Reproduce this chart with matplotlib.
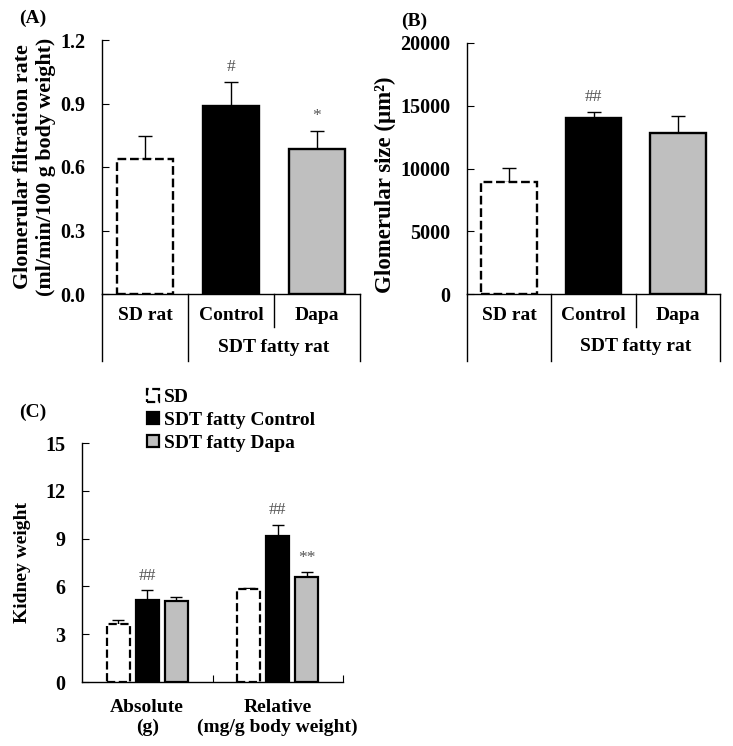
import matplotlib.pyplot as plt
import numpy as np

plt.rcParams['font.family'] = ['Liberation Serif', 'DejaVu Serif']
plt.rcParams['font.weight'] = 'bold'
plt.rcParams['axes.linewidth'] = 1.0

# data
groups_ab = ["SD rat", "Control", "Dapa"]
gfr_mean = [0.638, 0.888, 0.686]
gfr_err = [0.108, 0.115, 0.085]
gfr_marks = ["", "#", "*"]

glom_mean = [8950, 14000, 12800]
glom_err = [1110, 530, 1410]
glom_marks = ["", "##", ""]

kw_groups = ["Absolute\n(g)", "Relative\n(mg/g body weight)"]
kw_series = ["SD", "SDT fatty Control", "SDT fatty Dapa"]
kw_mean = [[3.67, 5.82], [5.13, 9.15], [5.08, 6.59]]
kw_err = [[0.25, 0.08], [0.63, 0.73], [0.26, 0.31]]
kw_marks = [["", ""], ["##", "##"], ["", "**"]]

FILL = ["white", "black", "#bfbfbf"]
STYLE = ["--", "-", "-"]
TICK = 14.5
TXT = 14
MARK_COLOR = "#555555"

fig = plt.figure(figsize=(7.33, 7.46), dpi=100)


def px_axes(left, top, right, bottom):
    W, H = 733, 746
    return fig.add_axes([left / W, 1 - bottom / H, (right - left) / W, (bottom - top) / H])


def style_axes(ax):
    ax.spines['top'].set_visible(False)
    ax.spines['right'].set_visible(False)
    ax.tick_params(axis='y', direction='in', length=5, labelsize=TICK, pad=12)
    for lab in ax.get_yticklabels():
        lab.set_fontweight('bold')


def three_bar_panel(ax, means, errs, marks, ylim, yticks, fmt, ylabel, yl_size, yl_y,
                    letter, lx):
    x = np.arange(3)
    for i in range(3):
        ax.bar(x[i], means[i], width=0.66, color=FILL[i], edgecolor="black",
               linewidth=1.7, linestyle=STYLE[i], zorder=2)
        ax.errorbar(x[i], means[i], yerr=[[0], [errs[i]]], fmt='none',
                    ecolor="black", elinewidth=1.0, capsize=5, capthick=1.0, zorder=1)
        if marks[i]:
            ax.text(x[i], means[i] + errs[i] + ylim[1] * 0.025, marks[i], ha='center',
                    va='bottom', fontsize=12.5, fontweight='normal', color=MARK_COLOR)
    ax.set_xlim(-0.5, 2.5)
    ax.set_ylim(*ylim)
    ax.set_yticks(yticks)
    ax.set_yticklabels([fmt.format(v) for v in yticks])
    ax.set_xticks([])
    style_axes(ax)
    tr = ax.get_xaxis_transform()
    # category dividers below the axis
    for xv, ylow in [(-0.5, -0.265), (0.5, -0.265), (1.5, -0.13), (2.5, -0.265)]:
        ax.plot([xv, xv], [0, ylow], transform=tr, color="black", lw=1.0, clip_on=False)
    for i, g in enumerate(groups_ab):
        ax.text(x[i], -0.085, g, transform=tr, ha='center', va='center',
                fontsize=TXT, fontweight='bold')
    ax.text(1.5, -0.21, "SDT fatty rat", transform=tr, ha='center', va='center',
            fontsize=TXT, fontweight='bold')
    ax.set_ylabel(ylabel, fontsize=yl_size, fontweight='bold', labelpad=3, y=yl_y)
    ax.text(lx, 1.085, letter, transform=ax.transAxes, fontsize=TXT, fontweight='bold',
            va='center')


axA = px_axes(102, 40, 360, 294)
three_bar_panel(axA, gfr_mean, gfr_err, gfr_marks, (0, 1.2), [0, 0.3, 0.6, 0.9, 1.2],
                "{:.1f}", "Glomerular filtration rate\n(ml/min/100 g body weight)",
                15.8, 0.5, "(A)", -0.32)

axB = px_axes(467, 43, 720, 294)
three_bar_panel(axB, glom_mean, glom_err, glom_marks, (0, 20000),
                [0, 5000, 10000, 15000, 20000], "{:d}",
                "Glomerular size (\u03bcm\u00b2)", 16.5, 0.435, "(B)", -0.26)

# panel C
axC = px_axes(82, 443, 343, 682)
off = 0.222
xg = np.arange(2)
for s in range(3):
    pos = xg + (s - 1) * off
    axC.bar(pos, kw_mean[s], width=0.176, color=FILL[s], edgecolor="black",
            linewidth=1.6, linestyle=STYLE[s], zorder=2, label=kw_series[s])
    axC.errorbar(pos, kw_mean[s], yerr=[[0, 0], kw_err[s]], fmt='none', ecolor="black",
                 elinewidth=1.0, capsize=4, capthick=1.0, zorder=1)
    for j in range(2):
        if kw_marks[s][j]:
            axC.text(pos[j], kw_mean[s][j] + kw_err[s][j] + 0.4, kw_marks[s][j],
                     ha='center', va='bottom', fontsize=12.5, fontweight='normal',
                     color=MARK_COLOR)
axC.set_xlim(-0.5, 1.5)
axC.set_ylim(0, 15)
axC.set_yticks([0, 3, 6, 9, 12, 15])
axC.set_yticklabels(["0", "3", "6", "9", "12", "15"])
axC.set_xticks([0.5, 1.5])
axC.set_xticklabels([])
axC.tick_params(axis='x', direction='in', length=5)
style_axes(axC)
trC = axC.get_xaxis_transform()
for j, g in enumerate(kw_groups):
    axC.text(xg[j], -0.07, g, transform=trC, ha='center', va='top', fontsize=TXT,
             fontweight='bold', linespacing=1.25)
axC.set_ylabel("Kidney weight", fontsize=14, fontweight='bold', labelpad=10)
axC.text(-0.24, 1.13, "(C)", transform=axC.transAxes, fontsize=TXT, fontweight='bold',
         va='center')
leg = axC.legend(loc='lower left', bbox_to_anchor=(0.22, 0.93), frameon=False,
                 fontsize=TXT, handlelength=0.6, handleheight=0.6, handletextpad=0.25,
                 labelspacing=0.3, borderaxespad=0)
for t in leg.get_texts():
    t.set_fontweight('bold')

fig.savefig("out.png", dpi=100)
